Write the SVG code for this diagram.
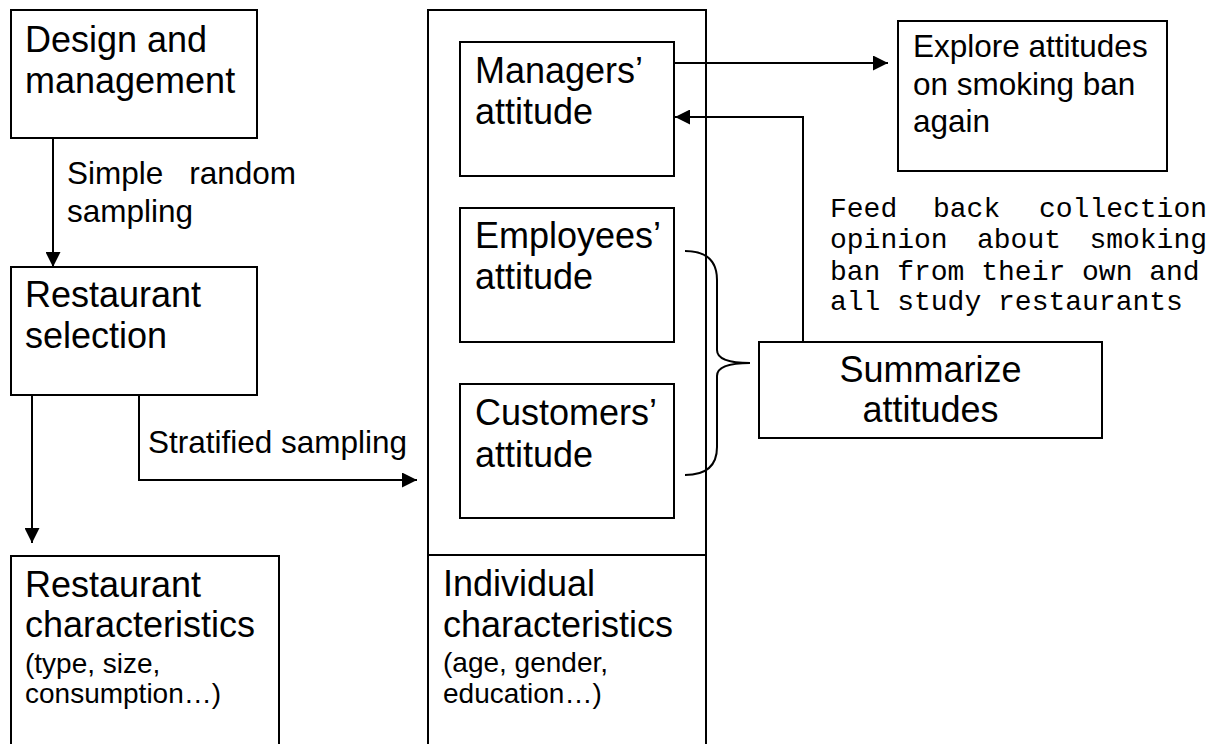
<svg xmlns="http://www.w3.org/2000/svg" width="1224" height="744" viewBox="0 0 1224 744">
<style>
.box{fill:#fff;stroke:#000;stroke-width:2}
.t{font-family:"Liberation Sans",Arial,sans-serif;font-size:36px;fill:#000}
.l{font-family:"Liberation Sans",Arial,sans-serif;font-size:31.5px;fill:#000}
.s{font-family:"Liberation Sans",Arial,sans-serif;font-size:28px;fill:#000}
.m{font-family:"Liberation Mono","Courier New",monospace;font-size:28px;fill:#000}
.c{fill:none;stroke:#000;stroke-width:2}
</style>
<defs>
<marker id="ah" markerUnits="userSpaceOnUse" markerWidth="15" markerHeight="15" refX="15" refY="7.5" orient="auto">
<path d="M0,0 L15,7.5 L0,15 z" fill="#000"/>
</marker>
</defs>
<rect width="1224" height="744" fill="#fff"/>
<g id="container">
<rect class="box" x="428" y="10" width="278" height="750"/>
<line x1="428" y1="555" x2="706" y2="555" stroke="#000" stroke-width="2"/>
</g>
<g id="design">
<rect class="box" x="11" y="10" width="246" height="128"/>
<text class="t" x="25" y="52">Design and</text>
<text class="t" x="25" y="93">management</text>
</g>
<g id="selection">
<rect class="box" x="11" y="267" width="246" height="128"/>
<text class="t" x="25" y="307">Restaurant</text>
<text class="t" x="25" y="348">selection</text>
</g>
<g id="restchar">
<rect class="box" x="11" y="556" width="268" height="200"/>
<text class="t" x="25" y="597">Restaurant</text>
<text class="t" x="25" y="637">characteristics</text>
<text class="s" x="25" y="673">(type, size,</text>
<text class="s" x="25" y="703">consumption…)</text>
</g>
<g id="managers">
<rect class="box" x="460" y="42" width="214" height="134"/>
<text class="t" x="475" y="83">Managers’</text>
<text class="t" x="475" y="124">attitude</text>
</g>
<g id="employees">
<rect class="box" x="460" y="208" width="214" height="134"/>
<text class="t" x="475" y="248">Employees’</text>
<text class="t" x="475" y="289">attitude</text>
</g>
<g id="customers">
<rect class="box" x="460" y="384" width="214" height="134"/>
<text class="t" x="475" y="425">Customers’</text>
<text class="t" x="475" y="467">attitude</text>
</g>
<g id="indchar">
<text class="t" x="443" y="596">Individual</text>
<text class="t" x="443" y="637">characteristics</text>
<text class="s" x="443" y="672">(age, gender,</text>
<text class="s" x="443" y="703">education…)</text>
</g>
<g id="explore">
<rect class="box" x="898" y="21" width="269" height="150"/>
<text class="l" x="913" y="57">Explore attitudes</text>
<text class="l" x="913" y="95">on smoking ban</text>
<text class="l" x="913" y="132">again</text>
</g>
<g id="summarize">
<rect class="box" x="759" y="342" width="343" height="96"/>
<text class="t" x="930.5" y="382" text-anchor="middle">Summarize</text>
<text class="t" x="930.5" y="422" text-anchor="middle">attitudes</text>
</g>
<g id="connectors">
<path class="c" d="M53,138 L53,267" marker-end="url(#ah)"/>
<path class="c" d="M32,395 L32,543" marker-end="url(#ah)"/>
<path class="c" d="M139,395 L139,480 L417,480" marker-end="url(#ah)"/>
<path class="c" d="M674,63 L888,63" marker-end="url(#ah)"/>
<path class="c" d="M803,342 L803,117 L675,117" marker-end="url(#ah)"/>
<path class="c" d="M685,251 Q717,251 717,280 L717,350 Q717,363 750,363 Q717,363 717,376 L717,447 Q717,475 685,475"/>
</g>
<g id="labels">
<text class="l" x="67" y="184">Simple</text>
<text class="l" x="296" y="184" text-anchor="end">random</text>
<text class="l" x="67" y="222">sampling</text>
<text class="l" x="148" y="453">Stratified sampling</text>
<text class="m" x="830" y="217">Feed</text>
<text class="m" x="933" y="217">back</text>
<text class="m" x="1207" y="217" text-anchor="end">collection</text>
<text class="m" x="830" y="248">opinion</text>
<text class="m" x="977" y="248">about</text>
<text class="m" x="1207" y="248" text-anchor="end">smoking</text>
<text class="m" x="830" y="280">ban from their own and</text>
<text class="m" x="830" y="310">all study restaurants</text>
</g>
</svg>
